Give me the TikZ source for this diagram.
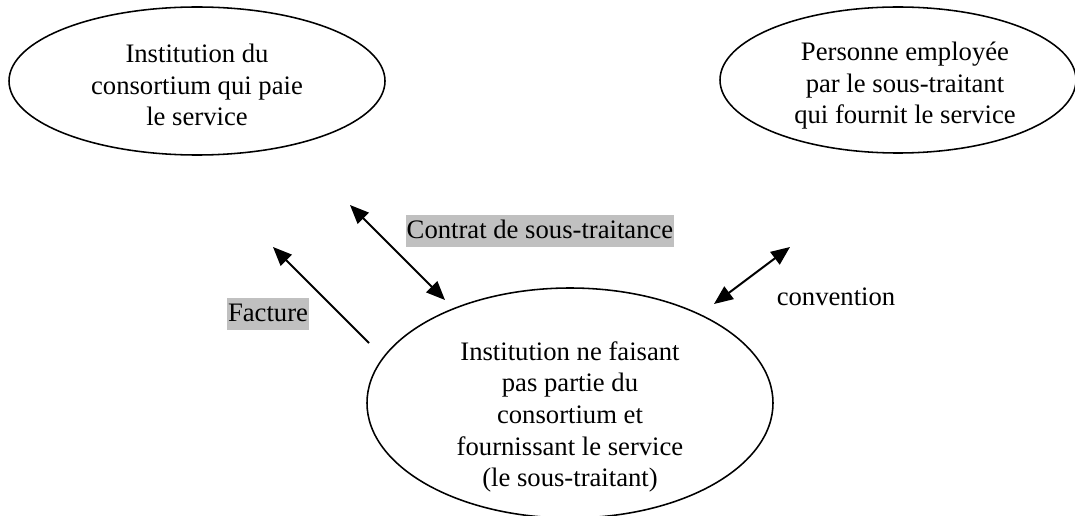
\documentclass[tikz,border=0pt]{standalone}
\usepackage{fontspec}
\setmainfont{Liberation Serif}
\usepackage{tikz}
\usetikzlibrary{arrows.meta,shapes.geometric}
\definecolor{hilite}{RGB}{192,192,192}

\begin{document}
\begin{tikzpicture}[x=0.45pt,y=-0.45pt
  ,>={Triangle[length=8.5pt,width=7pt]}
  ,line width=0.9pt
  ,font=\fontsize{12}{14.2}\selectfont]
  \tikzstyle{party}=[ellipse,draw,line width=0.7pt,inner sep=0pt]
  \tikzstyle{partytext}=[align=center,inner sep=0pt]
  \tikzstyle{tag}=[fill=hilite,inner xsep=0.5pt,inner ysep=0pt
  ,text height=10.5pt,text depth=3.9pt]

  \clip (0,0) rectangle (1075,516);

  % 3 ellipses
  \node[party,minimum width=169.2pt,minimum height=66.6pt](payer) at (197,81) {};
  \node[party,minimum width=160.2pt,minimum height=65.7pt](staff) at (898,80) {};
  \node[party,minimum width=182.7pt,minimum height=103.5pt](sub) at (570,403) {};

  \node[partytext](payertxt) at (197,85)
  {Institution du\\consortium qui paie\\le service};
  \node[partytext](stafftxt) at (905,86)
  {Personne employée\\par le sous-traitant\\qui fournit le service};
  \node[partytext](subtxt) at (570,417)
  {Institution ne faisant\\pas partie du\\consortium et\\fournissant le service\\(le sous-traitant)};

  % labels
  \node[tag](contrat) at (540,231) {Contrat de sous-traitance};
  \node[tag](facture) at (268,314) {Facture};
  \node(conv) at (836,297) {convention};

  % arrow ends
  \coordinate (ca) at (350,205);
  \coordinate (cb) at (445,300);
  \coordinate (fa) at (369,343);
  \coordinate (fb) at (273,247);
  \coordinate (va) at (714,304);
  \coordinate (vb) at (790,247);

  \draw[<->] (ca) -- (cb);
  \draw[->] (fa) -- (fb);
  \draw[<->] (va) -- (vb);

\end{tikzpicture}
\end{document}
